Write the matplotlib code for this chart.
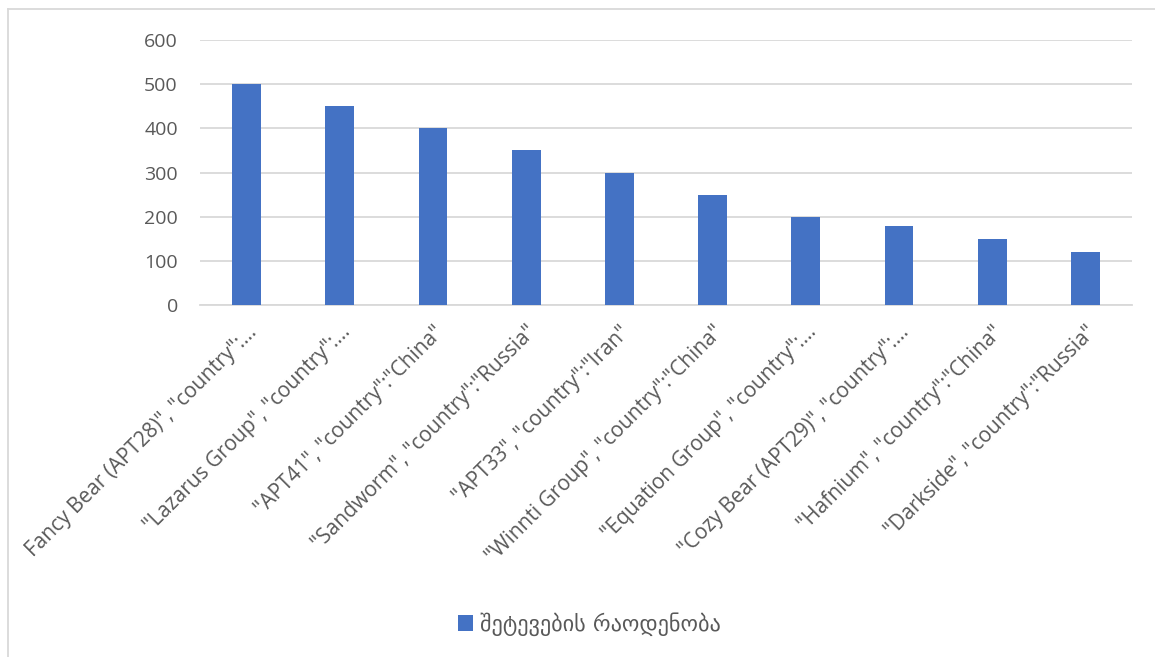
import matplotlib.pyplot as plt
from matplotlib.lines import Line2D
from matplotlib.patches import Patch

# Data.
groups = [
    'Fancy Bear (APT28)", "country":…',
    '"Lazarus Group", "country":…',
    '"APT41", "country":"China"',
    '"Sandworm", "country":"Russia"',
    '"APT33", "country":"Iran"',
    '"Winnti Group", "country":"China"',
    '"Equation Group", "country":…',
    '"Cozy Bear (APT29)", "country":…',
    '"Hafnium", "country":"China"',
    '"Darkside", "country":"Russia"',
]
attacks = [500, 450, 400, 350, 300, 250, 200, 180, 150, 120]
series_name = 'შეტევების რაოდენობა'

bar_color = '#4472C4'
text_color = '#595959'
grid_color = '#D9D9D9'

plt.rcParams['font.family'] = ['Open Sans', 'DejaVu Sans']

fig = plt.figure(figsize=(11.55, 6.57), dpi=100)
ax = fig.add_axes([200 / 1155, 1 - 305 / 657, 932 / 1155, 265 / 657])

x = range(len(groups))
ax.bar(x, attacks, width=0.31, color=bar_color, zorder=3)

ax.set_xlim(-0.5, len(groups) - 0.5)
ax.set_ylim(0, 600)
ax.set_yticks(range(0, 601, 100))
ax.set_xticks(list(x))
ax.set_xticklabels(groups, rotation=45, ha='right', rotation_mode='anchor',
                   fontsize=15, color=text_color)
ax.tick_params(axis='y', labelsize=14, colors=text_color, length=0, pad=16)
ax.tick_params(axis='x', length=0, pad=12)
ax.yaxis.grid(True, color=grid_color, linewidth=1.3, zorder=0)
for side in ['top', 'right', 'left']:
    ax.spines[side].set_visible(False)
ax.spines['bottom'].set_color(grid_color)
ax.spines['bottom'].set_linewidth(1.3)

# Legend below the chart.
handle = Patch(facecolor=bar_color, edgecolor='none')
fig.legend([handle], [series_name], loc='center', bbox_to_anchor=(589 / 1155, 1 - 624 / 657),
           frameon=False, handlelength=0.7, handleheight=0.7,
           handletextpad=0.3, prop={'family': 'DejaVu Sans', 'size': 16},
           labelcolor=text_color)

# Thin chart-area frame (left and top edges visible in the reference).
x0, y0 = 8 / 1155, 1 - 9 / 657
fig.add_artist(Line2D([x0, x0], [0, y0], transform=fig.transFigure, color='#D9D9D9', linewidth=1.3))
fig.add_artist(Line2D([x0, 1], [y0, y0], transform=fig.transFigure, color='#D9D9D9', linewidth=1.3))

fig.savefig('out.png', dpi=100)
